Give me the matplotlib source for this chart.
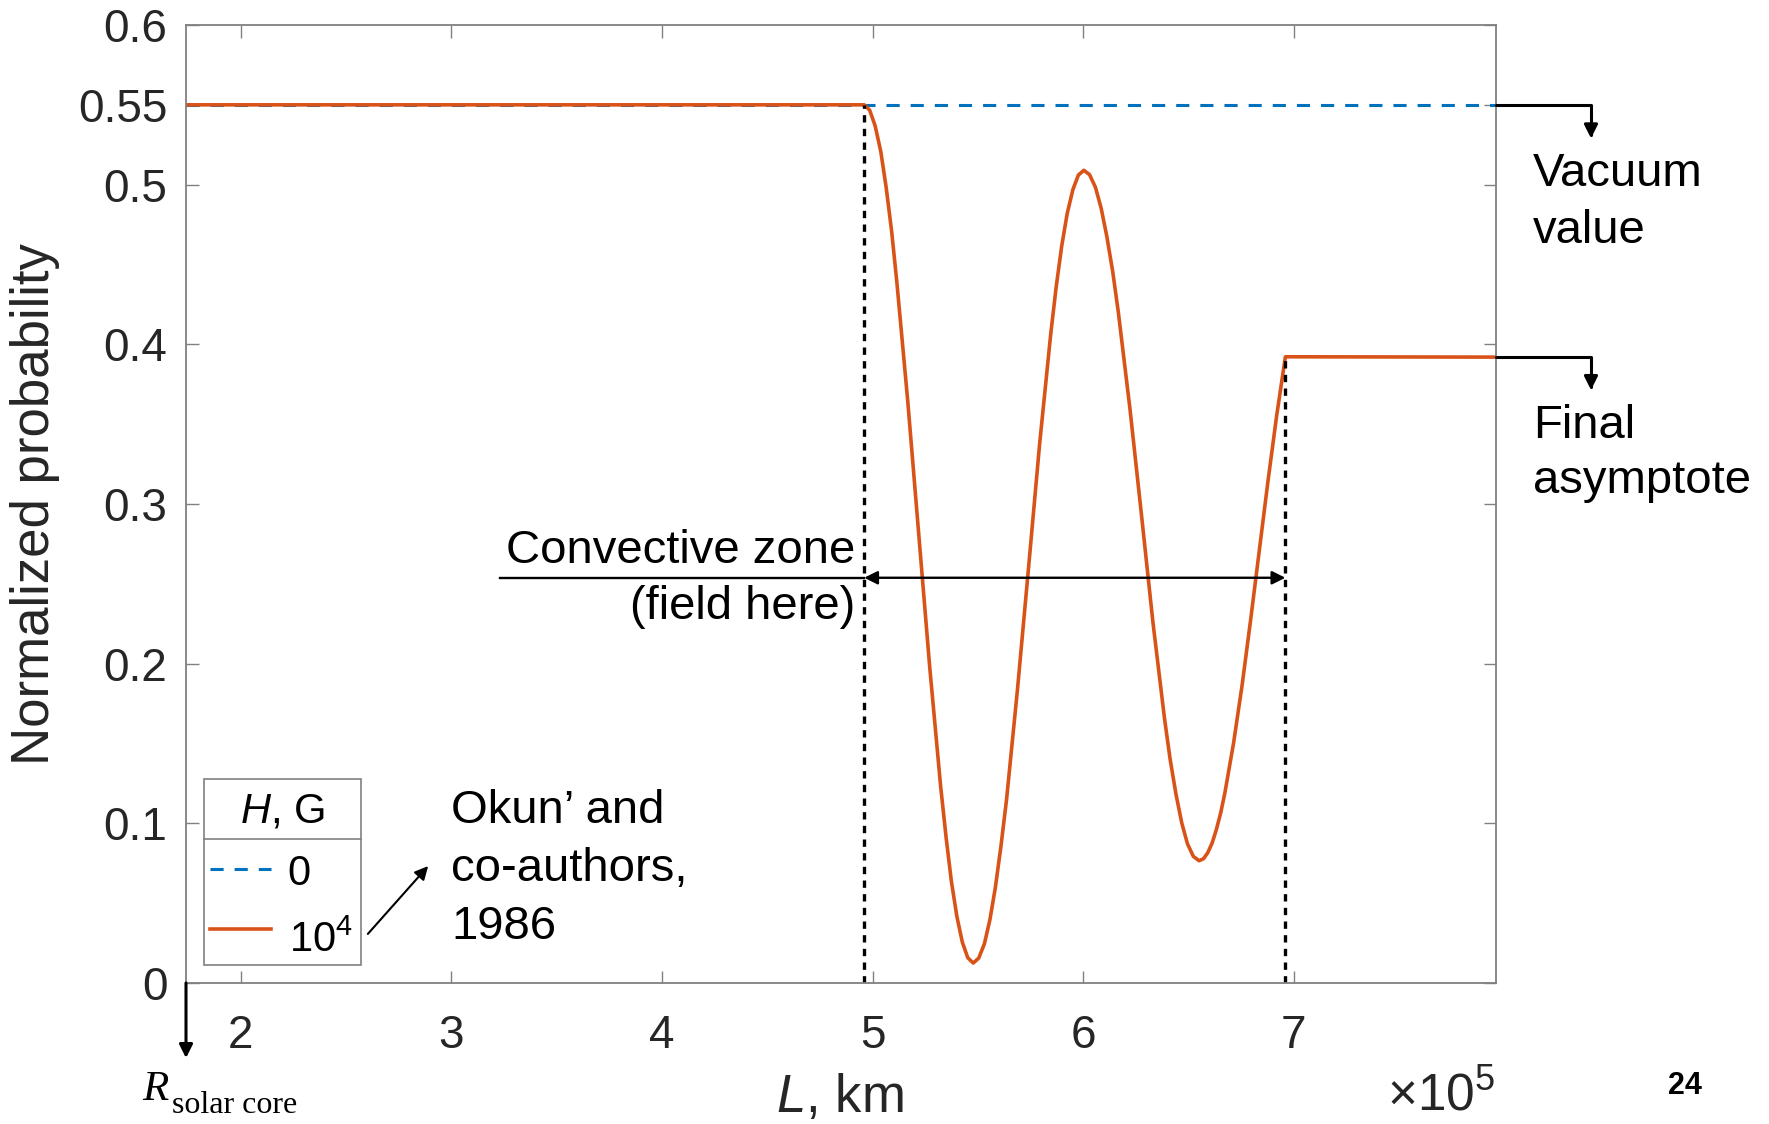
import matplotlib
matplotlib.use('Agg')
import matplotlib.pyplot as plt
from matplotlib.patches import Rectangle, FancyArrowPatch
from matplotlib.lines import Line2D

plt.rcParams['font.family'] = ['Liberation Sans', 'DejaVu Sans']
plt.rcParams['mathtext.fontset'] = 'custom'
plt.rcParams['mathtext.rm'] = 'Liberation Sans'
plt.rcParams['mathtext.it'] = 'Liberation Sans:italic'

# --- data (L in units of 1e5 km) ---
x_min, x_max = 1.74, 7.96          # solar core edge .. 1e5 km beyond the surface
zone_start, zone_end = 4.96, 6.96   # convective zone
vacuum_value = 0.55
final_value = 0.392

# probability inside the convective zone, H = 1e4 G
osc_L = [4.960, 4.986, 5.012, 5.039, 5.064, 5.090, 5.115, 5.167, 5.219, 5.271, 5.323, 5.349, 5.374, 5.400, 5.426, 5.452,
         5.478, 5.504, 5.531, 5.557, 5.583, 5.609, 5.636, 5.688, 5.741, 5.793, 5.846, 5.872, 5.898, 5.924, 5.951, 5.977,
         6.003, 6.030, 6.058, 6.085, 6.112, 6.140, 6.167, 6.222, 6.277, 6.331, 6.386, 6.413, 6.441, 6.468, 6.495, 6.523,
         6.550, 6.571, 6.591, 6.612, 6.632, 6.653, 6.673, 6.714, 6.755, 6.796, 6.837, 6.878, 6.919, 6.960]
osc_P = [0.5500, 0.5467, 0.5369, 0.5207, 0.4987, 0.4713, 0.4392, 0.3643, 0.2813, 0.1982, 0.1233, 0.0912, 0.0638, 0.0418, 0.0256, 0.0158,
         0.0125, 0.0156, 0.0246, 0.0396, 0.0599, 0.0852, 0.1148, 0.1840, 0.2608, 0.3375, 0.4067, 0.4363, 0.4616, 0.4819, 0.4969, 0.5060,
         0.5090, 0.5063, 0.4984, 0.4854, 0.4677, 0.4457, 0.4199, 0.3596, 0.2928, 0.2260, 0.1657, 0.1399, 0.1179, 0.1002, 0.0872, 0.0793,
         0.0766, 0.0778, 0.0815, 0.0876, 0.0960, 0.1066, 0.1193, 0.1503, 0.1870, 0.2285, 0.2718, 0.3150, 0.3557, 0.3922]

field_L = [x_min] + osc_L + [x_max]
field_P = [vacuum_value] + osc_P + [final_value]
vac_L = [x_min, x_max]
vac_P = [vacuum_value, vacuum_value]

xticks = [2, 3, 4, 5, 6, 7]
yticks = [0, 0.1, 0.2, 0.3, 0.4, 0.5, 0.55, 0.6]
ytick_labels = ['0', '0.1', '0.2', '0.3', '0.4', '0.5', '0.55', '0.6']
legend_labels = ['0', r'$10^4$']

blue = '#0072BD'
orange = '#D95319'
gray = '#808080'
dark = '#262626'

W, H = 1769, 1124
fig = plt.figure(figsize=(W / 100, H / 100), dpi=100)


def fx(px):
    return px / W


def fy(py):
    return 1 - py / H


ax = fig.add_axes([fx(186), fy(983), 1310 / W, 958 / H])
ax.plot(vac_L, vac_P, color=blue, lw=2.2, ls=(0, (4.3, 3.6)))
ax.plot(field_L, field_P, color=orange, lw=2.6, solid_joinstyle='round')

# convective zone boundaries
ax.plot([zone_start, zone_start], [0, vacuum_value], color='k', lw=2.4, ls=(0, (2.2, 1.9)))
ax.plot([zone_end, zone_end], [0, final_value], color='k', lw=2.4, ls=(0, (2.2, 1.9)))

ax.set_xlim(x_min, x_max)
ax.set_ylim(0, 0.6)
ax.set_xticks(xticks)
ax.set_xticklabels([str(t) for t in xticks])
ax.set_yticks(yticks)
ax.set_yticklabels(ytick_labels)
ax.tick_params(direction='in', length=9, width=1, color=gray, labelcolor=dark,
               labelsize=33, top=True, right=True)
ax.tick_params(axis='x', pad=22)
ax.tick_params(axis='y', pad=13.5)
for s in ax.spines.values():
    s.set_color(gray)
    s.set_linewidth(1.3)

# axis labels
fig.text(fx(35), fy(504), 'Normalized probability', rotation=90, ha='center', va='center',
         fontsize=38, color=dark)
fig.text(fx(776), fy(1112), r'$L$, km', ha='left', va='baseline', fontsize=38, color=dark)
fig.text(fx(1495), fy(1111), r'$\times10^5$', ha='right', va='baseline', fontsize=37, color=dark)

# solar core marker
ax.annotate('', xy=(x_min, -0.047), xytext=(x_min, 0), annotation_clip=False,
            arrowprops=dict(arrowstyle='-|>', color='k', lw=2.2, mutation_scale=20,
                            shrinkA=0, shrinkB=0))
fig.text(fx(142), fy(1100), 'R', family='Liberation Serif', style='italic', fontsize=31,
         ha='left', va='baseline')
fig.text(fx(172), fy(1113), 'solar core', family='Liberation Serif', fontsize=23,
         ha='left', va='baseline')

# right-hand annotations
x_elbow = 8.411
for level, tip in [(vacuum_value, 0.529), (final_value, 0.3714)]:
    ax.annotate('', xy=(x_elbow, tip), xytext=(x_max, level), annotation_clip=False,
                arrowprops=dict(arrowstyle='-|>', color='k', lw=2.2, mutation_scale=20,
                                shrinkA=0, shrinkB=0,
                                connectionstyle='angle,angleA=0,angleB=90,rad=0'))
for txt, base in [('Vacuum', 186), ('value', 243), ('Final', 438), ('asymptote', 493)]:
    fig.text(fx(1533), fy(base), txt, ha='left', va='baseline', fontsize=34)

# convective zone arrow
arrow_y = 0.2538
ax.plot([3.231, zone_start], [arrow_y, arrow_y], color='k', lw=1.7, clip_on=False)
ax.annotate('', xy=(zone_end, arrow_y), xytext=(zone_start, arrow_y),
            arrowprops=dict(arrowstyle='<|-|>', color='k', lw=1.7, mutation_scale=20,
                            shrinkA=0, shrinkB=0))
fig.text(fx(855), fy(563), 'Convective zone', ha='right', va='baseline', fontsize=34)
fig.text(fx(855), fy(619), '(field here)', ha='right', va='baseline', fontsize=34)

# legend (drawn by hand, MATLAB style with a title row)
fig.add_artist(Rectangle((fx(204), fy(965)), 157 / W, 186 / H, transform=fig.transFigure,
                         facecolor='white', edgecolor=gray, lw=1.2, zorder=5))
fig.add_artist(Line2D([fx(204), fx(361)], [fy(839), fy(839)], color=gray, lw=1.2, zorder=6))
fig.text(fx(282.5), fy(823), r'$H$, G', ha='center', va='baseline', fontsize=30, zorder=6)
fig.add_artist(Line2D([fx(210), fx(271)], [fy(869), fy(869)], color=blue, lw=2.2,
                      ls=(0, (4.3, 3.6)), zorder=6))
fig.add_artist(Line2D([fx(210), fx(271)], [fy(929), fy(929)], color=orange, lw=2.6, zorder=6))
fig.text(fx(287), fy(885), legend_labels[0], ha='left', va='baseline', fontsize=30, zorder=6)
fig.text(fx(289), fy(952), legend_labels[1], ha='left', va='baseline', fontsize=30, zorder=6)

# literature note
fig.add_artist(FancyArrowPatch((fx(366), fy(936)), (fx(430), fy(864)),
                               transform=fig.transFigure, arrowstyle='-|>',
                               mutation_scale=20, color='k', lw=1.5))
for txt, base in [('Okun\u2019 and', 823), ('co-authors,', 881), ('1986', 939)]:
    fig.text(fx(451), fy(base), txt, ha='left', va='baseline', fontsize=34)

fig.text(fx(1685), fy(1086), '24', ha='center', va='center', fontsize=22, weight='bold')

fig.savefig('out.png', dpi=100)
